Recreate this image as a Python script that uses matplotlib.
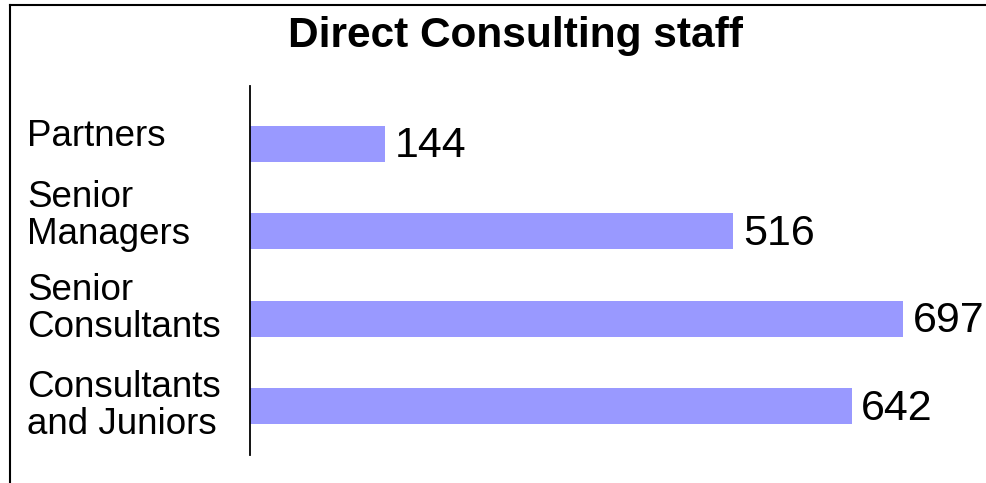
import matplotlib.pyplot as plt
from matplotlib.lines import Line2D

plt.rcParams['font.family'] = ['Liberation Sans', 'DejaVu Sans']

categories = ["Partners", "Senior\nManagers", "Senior\nConsultants", "Consultants\nand Juniors"]
staff = [144, 516, 697, 642]
bar_color = "#9999FF"

fig = plt.figure(figsize=(9.87, 4.83), dpi=100)
ax = fig.add_axes([250 / 987, 1 - 455 / 483, 737 / 987, 369 / 483])

ypos = list(range(len(categories)))
ax.barh(ypos, staff, height=0.41, color=bar_color)
ax.set_ylim(len(categories) - 1 + 0.56, -0.66)
ax.set_xlim(0, 737 / 0.937)

for s in ["top", "right", "bottom"]:
    ax.spines[s].set_visible(False)
ax.spines["left"].set_linewidth(1.3)
ax.set_xticks([])
ax.set_yticks([])

# category labels, left aligned near the frame
offsets = [-0.08, -0.17, -0.11, 0.0]
for y, lab, off in zip(ypos, categories, offsets):
    ax.annotate(lab, xy=(27 / 987, y + off), xycoords=("figure fraction", "data"),
                fontsize=26.5, ha="left", va="center", linespacing=1.08)

for y, v in zip(ypos, staff):
    ax.annotate(str(v), xy=(v, y), xytext=(7, -2), textcoords="offset points",
                fontsize=31, ha="left", va="center")

fig.text(515 / 987, 1 - 36 / 483, "Direct Consulting staff", fontsize=30.5, fontweight="bold",
         ha="center", va="center")

# frame lines on left and top
fig.add_artist(Line2D([10 / 987, 10 / 987], [0, 1 - 5 / 483], color="black", lw=1.5,
                      transform=fig.transFigure))
fig.add_artist(Line2D([10 / 987, 1], [1 - 5 / 483, 1 - 5 / 483], color="black", lw=1.5,
                      transform=fig.transFigure))

fig.savefig("out.png", dpi=100)
